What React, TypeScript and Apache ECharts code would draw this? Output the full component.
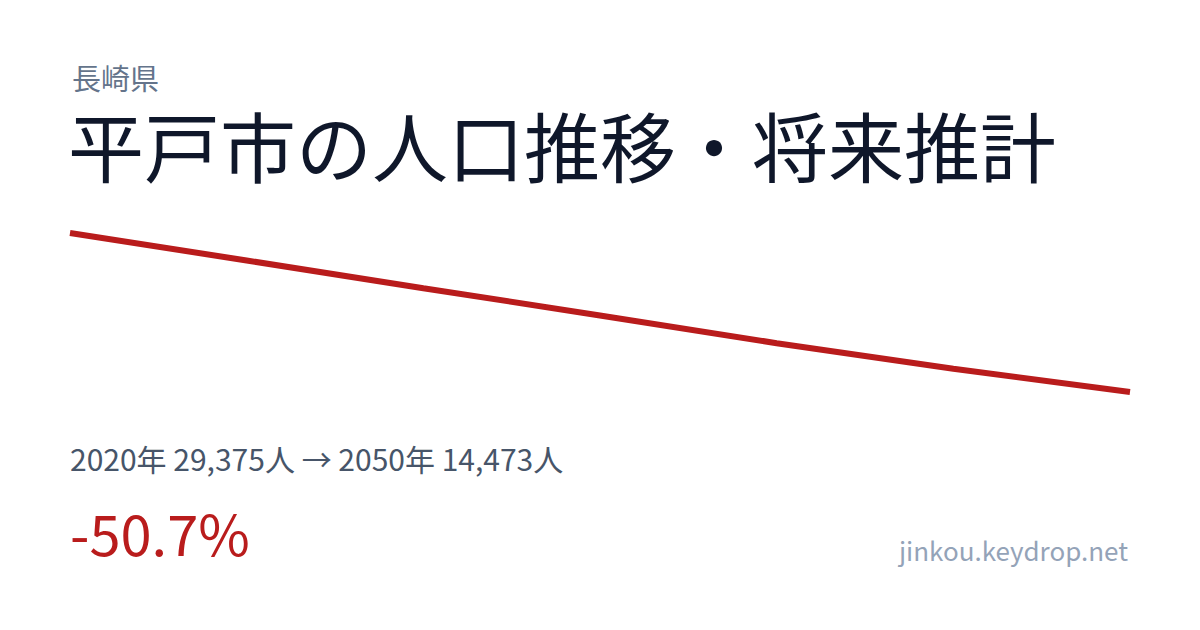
import React, { useEffect, useRef } from 'react';
import * as echarts from 'echarts';

const prefecture = '長崎県';
const titleText = '平戸市の人口推移・将来推計';
const years = [2020, 2025, 2030, 2035, 2040, 2045, 2050];
const population = [29375, 26800, 24200, 21650, 19050, 16650, 14473];
const siteName = 'jinkou.keydrop.net';

const FONT = '"Noto Sans CJK JP", "Noto Sans", sans-serif';

const fmt = (n: number) => n.toLocaleString('en-US');

const App: React.FC = () => {
  const chartRef = useRef<HTMLDivElement>(null);

  useEffect(() => {
    if (!chartRef.current) return;
    const chart = echarts.init(chartRef.current, undefined, { renderer: 'svg' });

    const first = population[0];
    const last = population[population.length - 1];
    const change = ((last - first) / first) * 100;
    const summary = `${years[0]}年 ${fmt(first)}人 → ${years[years.length - 1]}年 ${fmt(last)}人`;

    const option: echarts.EChartsOption = {
      animation: false,
      backgroundColor: '#ffffff',
      grid: { left: 70, right: 70, top: 233, bottom: 238 },
      xAxis: {
        type: 'value',
        min: years[0],
        max: years[years.length - 1],
        show: false
      },
      yAxis: {
        type: 'value',
        min: (v: any) => v.min,
        max: (v: any) => v.max,
        show: false
      },
      series: [{
        type: 'line',
        data: years.map((y, i) => [y, population[i]]),
        showSymbol: false,
        symbol: 'none',
        lineStyle: { color: '#b91c1c', width: 6 }
      }],
      graphic: [
        {
          type: 'text', left: 72, top: 62,
          style: { text: prefecture, fill: '#64748b', font: `29px ${FONT}` }
        },
        {
          type: 'text', left: 68, top: 106,
          style: { text: titleText, fill: '#0f172a', font: `76px ${FONT}` }
        },
        {
          type: 'text', left: 70, top: 443,
          style: { text: summary, fill: '#475569', font: `30px ${FONT}` }
        },
        {
          type: 'text', left: 70, top: 503,
          style: { text: `${change.toFixed(1)}%`, fill: '#b91c1c', font: `56px ${FONT}` }
        },
        {
          type: 'text', right: 72, top: 536,
          style: { text: siteName, fill: '#94a3b8', font: `26px ${FONT}` }
        }
      ]
    };

    chart.setOption(option);
    return () => chart.dispose();
  }, []);

  return (
    <div
      ref={chartRef}
      style={{ position: 'fixed', left: 0, top: 0, width: '1200px', height: '630px', background: '#fff' }}
    />
  );
};

export default App;
